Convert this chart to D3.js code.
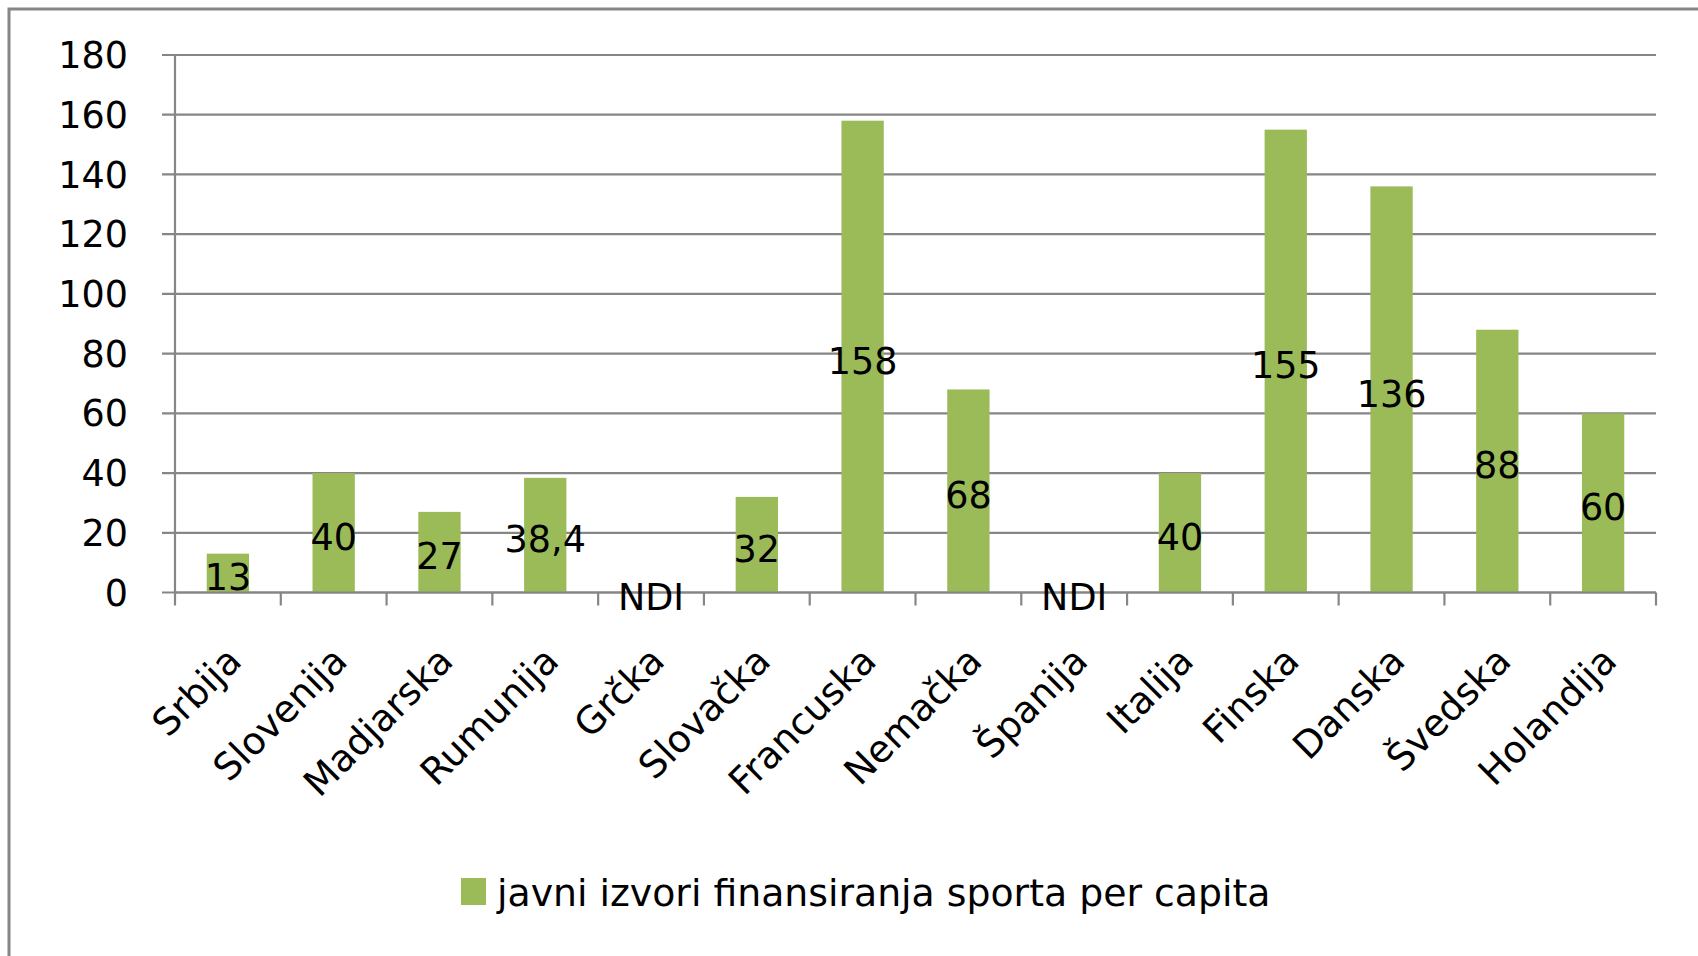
<!DOCTYPE html>
<html>
<head>
<meta charset="utf-8">
<script src="https://cdn.jsdelivr.net/npm/d3@7"></script>
<style>
  html, body { margin: 0; padding: 0; background: #fff; }
  svg text { font-family: "DejaVu Sans", sans-serif; fill: #000; }
</style>
</head>
<body>
<svg id="chart" width="1698" height="956"></svg>
<script>
const categories = ["Srbija", "Slovenija", "Madjarska", "Rumunija", "Grčka", "Slovačka", "Francuska", "Nemačka", "Španija", "Italija", "Finska", "Danska", "Švedska", "Holandija"];
const values = [13, 40, 27, 38.4, null, 32, 158, 68, null, 40, 155, 136, 88, 60];
const valueLabels = ["13", "40", "27", "38,4", "NDI", "32", "158", "68", "NDI", "40", "155", "136", "88", "60"];
const yTicks = [0, 20, 40, 60, 80, 100, 120, 140, 160, 180];
const seriesName = "javni izvori finansiranja sporta per capita";

const svg = d3.select("#chart");
const gridColor = "#868686";
const barColor = "#9BBB59";
const fs = 36.5;
const fsCat = 37.5;

// outer border
svg.append("rect").attr("x", 9).attr("y", 9).attr("width", 1720).attr("height", 1000)
  .attr("fill", "none").attr("stroke", gridColor).attr("stroke-width", 3);

const x0 = 175, x1 = 1656, yTop = 55, yBot = 592.5;
const x = d3.scaleBand().domain(categories).range([x0, x1]).paddingInner(0.6).paddingOuter(0.3);
const y = d3.scaleLinear().domain([0, 180]).range([yBot, yTop]);

// gridlines
svg.append("g").selectAll("line").data(yTicks).join("line")
  .attr("x1", x0 - 13).attr("x2", x1)
  .attr("y1", d => y(d)).attr("y2", d => y(d))
  .attr("stroke", gridColor).attr("stroke-width", 2.2);

// y axis line
svg.append("line").attr("x1", x0).attr("x2", x0).attr("y1", yTop).attr("y2", yBot)
  .attr("stroke", gridColor).attr("stroke-width", 2.2);

// y tick labels
svg.append("g").selectAll("text").data(yTicks).join("text")
  .attr("x", 128).attr("y", d => y(d))
  .attr("dy", "0.36em")
  .attr("text-anchor", "end")
  .attr("font-size", fs)
  .text(d => d);

// bars
const data = categories.map((c, i) => ({c, v: values[i], label: valueLabels[i]}));
svg.append("g").selectAll("rect").data(data.filter(d => d.v != null)).join("rect")
  .attr("x", d => x(d.c)).attr("width", x.bandwidth())
  .attr("y", d => y(d.v)).attr("height", d => y(0) - y(d.v))
  .attr("fill", barColor);

// x axis line + ticks
svg.append("line").attr("x1", x0).attr("x2", x1).attr("y1", yBot).attr("y2", yBot)
  .attr("stroke", gridColor).attr("stroke-width", 2.2);
const boundaries = d3.range(categories.length + 1).map(i => x0 + i * (x1 - x0) / categories.length);
svg.append("g").selectAll("line").data(boundaries).join("line")
  .attr("x1", d => d).attr("x2", d => d)
  .attr("y1", yBot).attr("y2", yBot + 13)
  .attr("stroke", gridColor).attr("stroke-width", 2.2);

// data labels (centered in bar)
svg.append("g").selectAll("text").data(data).join("text")
  .attr("x", d => x(d.c) + x.bandwidth() / 2)
  .attr("y", d => (y(d.v || 0) + y(0)) / 2 + 4)
  .attr("dy", "0.36em")
  .attr("text-anchor", "middle")
  .attr("font-size", fs)
  .text(d => d.label);

// category labels rotated
svg.append("g").selectAll("text").data(categories).join("text")
  .attr("text-anchor", "end")
  .attr("font-size", fsCat)
  .attr("transform", c => `translate(${x(c) + x.bandwidth() / 2 - 3},${yBot + 52}) rotate(-45)`)
  .attr("dy", "0.7em")
  .text(c => c);

// legend
const lg = svg.append("g");
lg.append("rect").attr("x", 461).attr("y", 878).attr("width", 25).attr("height", 27).attr("fill", barColor);
lg.append("text").attr("x", 497).attr("y", 906).attr("font-size", 37.8).text(seriesName);
</script>
</body>
</html>
